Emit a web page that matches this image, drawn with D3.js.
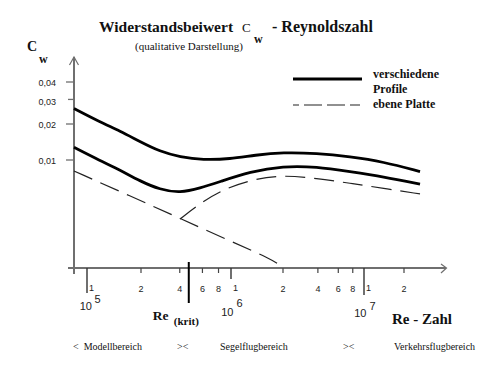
<!DOCTYPE html>
<html><head><meta charset="utf-8">
<script src="https://cdn.jsdelivr.net/npm/d3@7"></script>
<style>body{margin:0;background:#fff} svg{display:block}</style>
</head><body>
<svg id="chart" width="500" height="368"></svg>
<script>
// ---- data (Re number, drag coefficient Cw) ----
const profileUpperRe = [84600, 118000, 152800, 197000, 281000, 402000, 606000, 982000, 1380000, 2000000, 3900000, 7570000, 13900000, 26400000];
const profileUpperCw = [0.0258, 0.02066, 0.01748, 0.01428, 0.01178, 0.0106, 0.0100, 0.0102, 0.0110, 0.0116, 0.01138, 0.01066, 0.00968, 0.0080];
const profileLowerRe = [84600, 118000, 152800, 197000, 281000, 402000, 574000, 821000, 1290000, 2000000, 3900000, 7570000, 13900000, 26400000];
const profileLowerCw = [0.01277, 0.0099, 0.00825, 0.00667, 0.00565, 0.0053, 0.0058, 0.00659, 0.00798, 0.00891, 0.00879, 0.00798, 0.00725, 0.00627];
const plateLaminarRe = [84600, 174000, 402000, 982000, 1680000, 2050000];
const plateLaminarCw = [0.0081, 0.0050, 0.00325, 0.0021, 0.00151, 0.00125];
const plateTurbRe = [402000, 574000, 867000, 1340000, 2000000, 3900000, 7570000, 13900000, 26400000];
const plateTurbCw = [0.00321, 0.00434, 0.00569, 0.0069, 0.00749, 0.00703, 0.00639, 0.0058, 0.0052];

const yTickValues = [0.01, 0.02, 0.03, 0.04];
const yTickLabels = ["0,01", "0,02", "0,03", "0,04"];
const decadeValues = [1e5, 1e6, 1e7];
const decadeExponents = ["5", "6", "7"];
const minorTickValues = [2e5, 4e5, 6e5, 8e5, 2e6, 4e6, 6e6, 8e6, 2e7];
const minorTickLabels = ["2", "4", "6", "8", "2", "4", "6", "8", "2"];
const reKrit = 470000;
const legendLabels = ["verschiedene", "Profile", "ebene Platte"];
const rangeLabels = ["<  Modellbereich", "><", "Segelflugbereich", "><", "Verkehrsflugbereich"];

// ---- scales (hand-drawn logarithmic axes) ----
const x = d3.scaleLog().domain([1e5, 2e5, 1e6, 2e6, 1e7, 2e7]).range([87, 141, 231, 283, 364, 404]);
const y = d3.scaleLog().domain([0.01, 0.02, 0.04]).range([160, 124, 82]);

const svg = d3.select("#chart");
const serif = "'Liberation Serif', 'Times New Roman', serif";
const sans = "'Liberation Sans', Arial, sans-serif";
const axisY = 268, axisX = 74;
const grey = "#6f6f6f";

// ---- title ----
svg.append("text").attr("x", 99).attr("y", 32).attr("font-family", serif).attr("font-weight", "bold").attr("font-size", 15.5).attr("fill", "#111").text("Widerstandsbeiwert");
svg.append("text").attr("x", 242).attr("y", 32).attr("font-family", serif).attr("font-size", 13).attr("fill", "#111").text("C");
svg.append("text").attr("x", 254).attr("y", 43).attr("font-family", serif).attr("font-size", 12).attr("font-weight", "bold").attr("fill", "#111").text("w");
svg.append("text").attr("x", 272).attr("y", 32).attr("font-family", serif).attr("font-size", 16).attr("font-weight", "bold").attr("fill", "#111").text("- Reynoldszahl");
svg.append("text").attr("x", 135).attr("y", 50).attr("font-family", serif).attr("font-size", 11).attr("fill", "#111").text("(qualitative Darstellung)");

// y label
svg.append("text").attr("x", 27).attr("y", 51).attr("font-family", serif).attr("font-size", 14).attr("font-weight", "bold").attr("fill", "#111").text("C");
svg.append("text").attr("x", 39).attr("y", 63).attr("font-family", serif).attr("font-size", 12).attr("font-weight", "bold").attr("fill", "#111").text("w");

// ---- axes ----
svg.append("line").attr("x1", 68).attr("x2", 446).attr("y1", axisY).attr("y2", axisY).attr("stroke", grey).attr("stroke-width", 2);
svg.append("path").attr("d", `M441,264 L446.5,${axisY} L441,273`).attr("fill", "none").attr("stroke", grey).attr("stroke-width", 1.2);
svg.append("line").attr("x1", axisX).attr("x2", axisX).attr("y1", 274).attr("y2", 57).attr("stroke", grey).attr("stroke-width", 2);
svg.append("path").attr("d", `M${axisX-4.5},65 L${axisX},57 L${axisX+4.5},65`).attr("fill", "none").attr("stroke", grey).attr("stroke-width", 1.2);

// y ticks
const yt = svg.append("g");
yTickValues.forEach((v, i) => {
  yt.append("line").attr("x1", v === 0.03 ? 68 : 66).attr("x2", axisX).attr("y1", y(v)).attr("y2", y(v)).attr("stroke", grey).attr("stroke-width", 1.3);
  yt.append("text").attr("x", 56).attr("y", y(v) + (v === 0.03 ? 6 : 3.5)).attr("text-anchor", "end")
    .attr("font-family", sans).attr("font-size", 9).attr("fill", "#222").text(yTickLabels[i]);
});

// x decade ticks
const decadeTickEnd = {1e5: 293, 1e6: 279, 1e7: 295};
const decadeLabelBase = {1e5: 310, 1e6: 315.5, 1e7: 317};
const decadeSupBase = {1e5: 303, 1e6: 306.5, 1e7: 310};
decadeValues.forEach((v, i) => {
  const xv = x(v);
  svg.append("line").attr("x1", xv).attr("x2", xv).attr("y1", axisY).attr("y2", decadeTickEnd[v]).attr("stroke", "#333").attr("stroke-width", 1.4);
  svg.append("text").attr("x", xv + 2).attr("y", 291).attr("font-family", sans).attr("font-size", 9).attr("fill", "#222").text("1");
  svg.append("text").attr("x", xv + (i === 0 ? 5 : 2.5)).attr("y", decadeLabelBase[v]).attr("text-anchor", "end")
    .attr("font-family", sans).attr("font-size", 11).attr("fill", "#222").text("10");
  svg.append("text").attr("x", xv + (i === 0 ? 7.5 : 5.5)).attr("y", decadeSupBase[v])
    .attr("font-family", sans).attr("font-size", 11).attr("fill", "#222").text(decadeExponents[i]);
});
// minor ticks
minorTickValues.forEach((v, i) => {
  const xv = x(v);
  svg.append("line").attr("x1", xv).attr("x2", xv).attr("y1", axisY).attr("y2", axisY + 5).attr("stroke", "#444").attr("stroke-width", 1.2);
  svg.append("text").attr("x", xv).attr("y", 292).attr("text-anchor", "middle")
    .attr("font-family", sans).attr("font-size", 9).attr("fill", "#222").text(minorTickLabels[i]);
});
// Re krit
svg.append("line").attr("x1", x(reKrit)).attr("x2", x(reKrit)).attr("y1", 262).attr("y2", 303).attr("stroke", "#000").attr("stroke-width", 2);
svg.append("text").attr("x", x(reKrit) - 36).attr("y", 320).attr("font-family", serif).attr("font-size", 13.5).attr("font-weight", "bold").attr("fill", "#111").text("Re");
svg.append("text").attr("x", x(reKrit) - 15).attr("y", 325).attr("font-family", serif).attr("font-size", 11).attr("font-weight", "bold").attr("fill", "#111").text("(krit)");

svg.append("text").attr("x", 392).attr("y", 324).attr("font-family", serif).attr("font-size", 15).attr("font-weight", "bold").attr("fill", "#111").text("Re - Zahl");

// range labels
const rangeX = [73, 177, 220, 343, 394];
rangeLabels.forEach((t, i) => {
  svg.append("text").attr("x", rangeX[i]).attr("y", 350).attr("font-family", serif).attr("font-size", 10)
    .attr("fill", "#111").style("white-space", "pre").text(t);
});

// ---- curves ----
const line = d3.line().x(d => x(d[0])).y(d => y(d[1])).curve(d3.curveBasis);
const zip = (a, b) => a.map((v, i) => [v, b[i]]);
const g = svg.append("g").attr("fill", "none");
g.append("path").attr("d", line(zip(profileUpperRe, profileUpperCw))).attr("stroke", "#000").attr("stroke-width", 2.8);
g.append("path").attr("d", line(zip(profileLowerRe, profileLowerCw))).attr("stroke", "#000").attr("stroke-width", 2.8);
g.append("path").attr("d", line(zip(plateLaminarRe, plateLaminarCw))).attr("stroke", "#222").attr("stroke-width", 1.2).attr("stroke-dasharray", "20,9");
g.append("path").attr("d", line(zip(plateTurbRe, plateTurbCw))).attr("stroke", "#222").attr("stroke-width", 1.2).attr("stroke-dasharray", "20,9");

// ---- legend ----
svg.append("line").attr("x1", 293).attr("x2", 362).attr("y1", 79).attr("y2", 79).attr("stroke", "#000").attr("stroke-width", 3);
svg.append("line").attr("x1", 293).attr("x2", 360).attr("y1", 105).attr("y2", 105).attr("stroke", "#222").attr("stroke-width", 1.2)
  .attr("stroke-dasharray", "18,5").attr("stroke-dashoffset", 12);
const legendY = [78, 93, 108];
legendLabels.forEach((t, i) => {
  svg.append("text").attr("x", 373).attr("y", legendY[i]).attr("font-family", serif).attr("font-size", 12)
    .attr("font-weight", "bold").attr("fill", "#111").text(t);
});
</script>
</body></html>
